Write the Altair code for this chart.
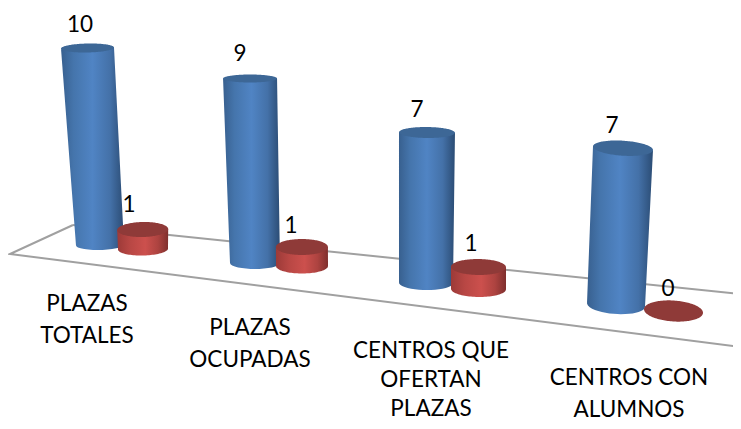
import numpy as np
import pandas as pd
import altair as alt

categories = ["PLAZAS\nTOTALES", "PLAZAS\nOCUPADAS", "CENTROS QUE\nOFERTAN\nPLAZAS", "CENTROS CON\nALUMNOS"]
blue_values = [10, 9, 7, 7]
red_values = [1, 1, 1, 0]

# perspective layout of the floor, one entry per category
tilt = [-0.02, 0.0, 0.01, 0.06]
blue_layout = dict(cx=[100, 255, 426, 616], base=[245, 263, 283, 305], rxb=[24, 25, 27, 29], ryb=[5, 6, 7, 9],
                   unit=[19.7, 20.5, 21.5, 22.4], lean=[1.25, 0.55, -0.14, -1.0], rxt=[26.5, 27, 28, 30], ryt=[4.5, 4, 5.5, 7.5])
red_layout = dict(cx=[143, 302, 478.5, 673.5], base=[249, 266, 289, 311], rxb=[25, 26, 27.5, 29.5], ryb=[6.5, 7.5, 8, 10.5],
                  unit=[19.5, 19, 22, 22], lean=[0.3, 0.1, 0, 0], rxt=[25.5, 26, 27.5, 29.5], ryt=[7.5, 8, 8, 10.5])
floor_x = [73, 10, 741]
floor_y = [225, 254, 347]
back_x = [73, 741]
back_y = [225, 294]
cat_label_x = [87, 250, 431, 629]
cat_label_y = [304, 328, 351, 378]
line_step = [32, 32, 29, 32]
blue_label_pos = [(80, 25), (240, 54), (417, 110), (612, 126)]
red_label_pos = [(129, 205), (291, 226), (471, 244), (668, 289)]

W, H = 725, 413
X = alt.Scale(domain=[8, 733], nice=False, zero=False)
Y = alt.Scale(domain=[421, 8], nice=False, zero=False)


def spans(poly, sid):
    """Turn a convex polygon into left/right spans for a horizontal area."""
    px, py = np.array(poly).T
    lo, hi = py.min(), py.max()
    ys = lo + (hi - lo) * (1 - np.cos(np.linspace(0, np.pi, 70))) / 2
    rows = []
    for y in ys:
        x1, y1 = px, py
        x2, y2 = np.roll(px, -1), np.roll(py, -1)
        mask = (np.minimum(y1, y2) <= y) & (np.maximum(y1, y2) >= y) & (y1 != y2)
        xs = x1[mask] + (y - y1[mask]) * (x2[mask] - x1[mask]) / (y2[mask] - y1[mask])
        if len(xs):
            rows.append(dict(id=sid, y=float(y), xl=float(xs.min()), xr=float(xs.max())))
    return rows


def cylinder_rows(values, lay, name):
    body, top = [], []
    t = np.linspace(0, np.pi, 50)
    tt = np.linspace(0, 2 * np.pi, 100, endpoint=False)
    for i, v in enumerate(values):
        cb, yb = lay["cx"][i], lay["base"][i]
        ct, yt = cb - lay["lean"][i] * v, yb - lay["unit"][i] * v
        rb, rt = lay["rxb"][i], lay["rxt"][i]
        k = tilt[i]
        poly = [(ct - rt, yt - k * rt), (ct + rt, yt + k * rt)]
        poly += [(cb + rb * np.cos(a), yb + k * rb * np.cos(a) + lay["ryb"][i] * np.sin(a)) for a in t]
        if v > 0:
            body += spans(poly, f"{name}{i}")
        ell = [(ct + rt * np.cos(a), yt + k * rt * np.cos(a) + lay["ryt"][i] * np.sin(a)) for a in tt]
        top += spans(ell, f"{name}t{i}")
    return pd.DataFrame(body), pd.DataFrame(top)


def grad(stops):
    return alt.Gradient(gradient="linear", x1=0, x2=1, y1=0, y2=0,
                        stops=[alt.GradientStop(offset=o, color=c) for o, c in stops])


def area(df, fill):
    return alt.Chart(df).mark_area(orient="horizontal", color=fill, opacity=1).encode(
        y=alt.Y("y:Q", scale=Y, axis=None),
        x=alt.X("xl:Q", scale=X, axis=None),
        x2="xr:Q",
        detail="id:N",
    )


blue_body, blue_top = cylinder_rows(blue_values, blue_layout, "b")
red_body, red_top = cylinder_rows(red_values, red_layout, "r")

blue_grad = grad([(0, "#38608F"), (0.2, "#4575AC"), (0.5, "#5084C4"), (0.78, "#4471A8"), (1, "#2B4C74")])
red_grad = grad([(0, "#9C3A38"), (0.25, "#B84744"), (0.55, "#CC504D"), (0.8, "#AD4340"), (1, "#7F2F2D")])

floor = alt.Chart(pd.DataFrame({"x": floor_x, "y": floor_y, "o": [0, 1, 2]})).mark_line(color="#A0A0A0", strokeWidth=2).encode(
    x=alt.X("x:Q", scale=X, axis=None), y=alt.Y("y:Q", scale=Y, axis=None), order="o:Q")
back = alt.Chart(pd.DataFrame({"x": back_x, "y": back_y})).mark_line(color="#A0A0A0", strokeWidth=2).encode(
    x=alt.X("x:Q", scale=X, axis=None), y=alt.Y("y:Q", scale=Y, axis=None))

label_rows = []
for label, lx, ly, step in zip(categories, cat_label_x, cat_label_y, line_step):
    for j, line in enumerate(label.split("\n")):
        label_rows.append(dict(t=line, x=lx, y=ly + j * step))
for v, (lx, ly) in zip(blue_values + red_values, blue_label_pos + red_label_pos):
    label_rows.append(dict(t=str(v), x=lx, y=ly))
labels = alt.Chart(pd.DataFrame(label_rows)).mark_text(
    font="Lato", fontSize=22.5, color="#000000", align="center", baseline="middle").encode(
    x=alt.X("x:Q", scale=X, axis=None), y=alt.Y("y:Q", scale=Y, axis=None), text="t:N")

chart = alt.layer(
    back, floor,
    area(blue_body, blue_grad), area(blue_top, "#3D6796"),
    area(red_body, red_grad), area(red_top, "#8F3A38"),
    labels,
).properties(width=W, height=H, padding=0, background="#FFFFFF", autosize=alt.AutoSizeParams(type="none")
).configure_view(stroke=None)

chart.save("out.html", embed_options={"renderer": "svg", "actions": False})
